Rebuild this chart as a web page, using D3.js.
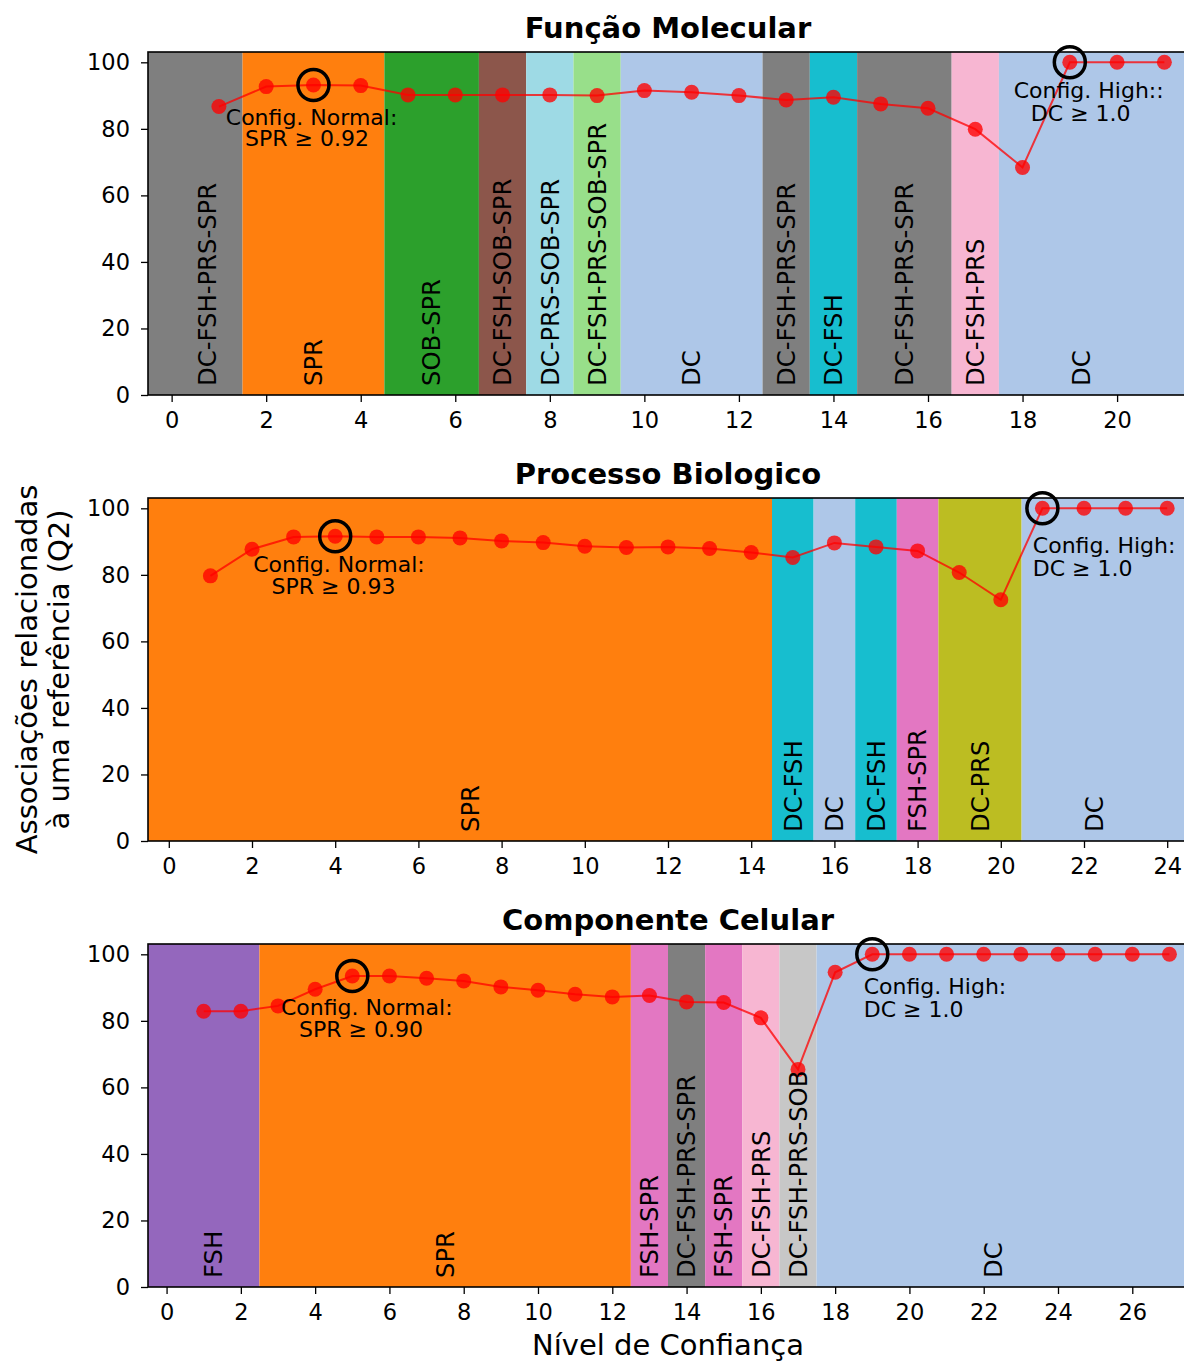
<!DOCTYPE html>
<html>
<head>
<meta charset="utf-8">
<script src="https://cdn.jsdelivr.net/npm/d3@7"></script>
<style>
body { margin: 0; background: #fff; }
text { font-family: "DejaVu Sans", sans-serif; }
</style>
</head>
<body>
<div id="chart"></div>
<script>
// confidence levels and Q2 values
var levelsMF = [1, 2, 3, 4, 5, 6, 7, 8, 9, 10, 11, 12, 13, 14, 15, 16, 17, 18, 19, 20, 21];
var valuesMF = [86.7, 92.7, 93.2, 93.0, 90.2, 90.2, 90.2, 90.2, 90.0, 91.5, 91.0, 90.0, 88.7, 89.5, 87.5, 86.2, 79.9, 68.4, 100, 100, 100];

var levelsBP = [1, 2, 3, 4, 5, 6, 7, 8, 9, 10, 11, 12, 13, 14, 15, 16, 17, 18, 19, 20, 21, 22, 23, 24];
var valuesBP = [79.7, 87.7, 91.4, 91.6, 91.4, 91.4, 91.1, 90.2, 89.7, 88.6, 88.2, 88.4, 87.9, 86.7, 85.2, 89.6, 88.4, 87.2, 80.7, 72.5, 100, 100, 100, 100];

var levelsCC = [1, 2, 3, 4, 5, 6, 7, 8, 9, 10, 11, 12, 13, 14, 15, 16, 17, 18, 19, 20, 21, 22, 23, 24, 25, 26, 27];
var valuesCC = [82.9, 82.9, 84.5, 89.5, 93.5, 93.5, 92.8, 92.0, 90.2, 89.2, 88.0, 87.2, 87.6, 85.7, 85.5, 80.9, 65.4, 94.6, 100, 100, 100, 100, 100, 100, 100, 100, 100];

// best configuration per level range (first and last level of each band)
var bandNamesMF = ["DC-FSH-PRS-SPR", "SPR", "SOB-SPR", "DC-FSH-SOB-SPR", "DC-PRS-SOB-SPR", "DC-FSH-PRS-SOB-SPR", "DC", "DC-FSH-PRS-SPR", "DC-FSH", "DC-FSH-PRS-SPR", "DC-FSH-PRS", "DC"];
var bandFirstMF = [0, 2, 5, 7, 8, 9, 10, 13, 14, 15, 17, 18];
var bandLastMF = [1, 4, 6, 7, 8, 9, 12, 13, 14, 16, 17, 21];

var bandNamesBP = ["SPR", "DC-FSH", "DC", "DC-FSH", "FSH-SPR", "DC-PRS", "DC"];
var bandFirstBP = [0, 15, 16, 17, 18, 19, 21];
var bandLastBP = [14, 15, 16, 17, 18, 20, 24];

var bandNamesCC = ["FSH", "SPR", "FSH-SPR", "DC-FSH-PRS-SPR", "FSH-SPR", "DC-FSH-PRS", "DC-FSH-PRS-SOB", "DC"];
var bandFirstCC = [0, 3, 13, 14, 15, 16, 17, 18];
var bandLastCC = [2, 12, 13, 14, 15, 16, 17, 27];

var ticksMF = [0, 2, 4, 6, 8, 10, 12, 14, 16, 18, 20];
var ticksBP = [0, 2, 4, 6, 8, 10, 12, 14, 16, 18, 20, 22, 24];
var ticksCC = [0, 2, 4, 6, 8, 10, 12, 14, 16, 18, 20, 22, 24, 26];
var ticksY = [0, 20, 40, 60, 80, 100];

// chosen levels (normal / high)
var normalMF = 3, highMF = 19, normalThrMF = "0.92";
var normalBP = 4, highBP = 21, normalThrBP = "0.93";
var normalCC = 5, highCC = 19, normalThrCC = "0.90";

var bandColor = {
    "DC-FSH-PRS-SPR": "#7f7f7f",
    "SPR": "#ff7f0e",
    "SOB-SPR": "#2ca02c",
    "DC-FSH-SOB-SPR": "#8c564b",
    "DC-PRS-SOB-SPR": "#9edae5",
    "DC-FSH-PRS-SOB-SPR": "#98df8a",
    "DC": "#aec7e8",
    "DC-FSH": "#17becf",
    "DC-FSH-PRS": "#f7b6d2",
    "FSH-SPR": "#e377c2",
    "DC-PRS": "#bcbd22",
    "FSH": "#9467bd",
    "DC-FSH-PRS-SOB": "#c7c7c7"
};

var panels = [
    { title: "Função Molecular", levels: levelsMF, values: valuesMF, names: bandNamesMF, first: bandFirstMF, last: bandLastMF,
      ticks: ticksMF, normal: normalMF, high: highMF, thr: normalThrMF,
      normalText: { x: 2.96, y: 81.2, dx2: -4.5, gap: 21.5 },
      highText: { x: 19.4, y: 89.4, anchor: "middle", dx2: -8, gap: 23, label: "Config. High::" } },
    { title: "Processo Biologico", levels: levelsBP, values: valuesBP, names: bandNamesBP, first: bandFirstBP, last: bandLastBP,
      ticks: ticksBP, normal: normalBP, high: highBP, thr: normalThrBP,
      normalText: { x: 4.09, y: 80.8, dx2: -5.5, gap: 21.5 },
      highText: { x: 20.77, y: 86.7, anchor: "start", dx2: 0, gap: 23, label: "Config. High:" } },
    { title: "Componente Celular", levels: levelsCC, values: valuesCC, names: bandNamesCC, first: bandFirstCC, last: bandLastCC,
      ticks: ticksCC, normal: normalCC, high: highCC, thr: normalThrCC,
      normalText: { x: 5.39, y: 81.7, dx2: -5.7, gap: 21.5 },
      highText: { x: 18.77, y: 88.2, anchor: "start", dx2: 0, gap: 23, label: "Config. High:" } }
];

var width = 1184, height = 1363;
var left = 148, innerwidth = 1040, innerheight = 343;
var tops = [52, 498, 944];

var svg = d3.select("#chart").append("svg")
    .attr("width", width)
    .attr("height", height);

panels.forEach(function (p, k) {
    var xmax = p.levels[p.levels.length - 1];
    var x = d3.scaleLinear().domain([-0.5, xmax + 0.5]).range([0, innerwidth]);
    var y = d3.scaleLinear().domain([0, 103.1]).range([innerheight, 0]);

    var g = svg.append("g").attr("transform", "translate(" + left + "," + tops[k] + ")");

    var bands = p.names.map(function (n, i) {
        return { name: n, x0: p.first[i] - 0.5, x1: p.last[i] + 0.5 };
    });

    g.selectAll(".band").data(bands).enter().append("rect")
        .attr("class", "band")
        .attr("x", function (d) { return x(d.x0); })
        .attr("width", function (d) { return x(d.x1) - x(d.x0); })
        .attr("y", 0)
        .attr("height", innerheight)
        .attr("fill", function (d) { return bandColor[d.name]; });

    var pts = d3.zip(p.levels, p.values);
    var draw_line = d3.line()
        .x(function (d) { return x(d[0]); })
        .y(function (d) { return y(d[1]); });

    g.append("path")
        .attr("d", draw_line(pts))
        .attr("fill", "none")
        .attr("stroke", "red")
        .attr("stroke-opacity", 0.75)
        .attr("stroke-width", 2);

    g.selectAll(".pt").data(pts).enter().append("circle")
        .attr("class", "pt")
        .attr("cx", function (d) { return x(d[0]); })
        .attr("cy", function (d) { return y(d[1]); })
        .attr("r", 7.5)
        .attr("fill", "red")
        .attr("fill-opacity", 0.78);

    // highlighted configurations
    [p.normal, p.high].forEach(function (lv) {
        var v = p.values[p.levels.indexOf(lv)];
        g.append("circle")
            .attr("cx", x(lv))
            .attr("cy", y(v))
            .attr("r", 15.5)
            .attr("fill", "none")
            .attr("stroke", "black")
            .attr("stroke-width", 3.5);
    });

    // spines
    g.append("rect")
        .attr("width", innerwidth)
        .attr("height", innerheight)
        .attr("fill", "none")
        .attr("stroke", "black")
        .attr("stroke-width", 1.6);

    // band labels
    g.selectAll(".blabel").data(bands).enter().append("text")
        .attr("class", "blabel")
        .attr("transform", function (d) {
            var cx = (Math.max(d.x0, 0) + Math.min(d.x1, xmax)) / 2;
            return "translate(" + x(cx) + "," + y(2.7) + ") rotate(-90)";
        })
        .attr("dy", "0.36em")
        .style("font-size", "24.3px")
        .text(function (d) { return d.name; });

    // annotations
    var notes = [
        { t: p.normalText, lines: ["Config. Normal:", "SPR \u2265 " + p.thr], anchor: "middle" },
        { t: p.highText, lines: [p.highText.label, "DC \u2265 1.0"], anchor: p.highText.anchor }
    ];
    notes.forEach(function (n) {
        var txt = g.append("text")
            .attr("x", x(n.t.x))
            .attr("y", y(n.t.y))
            .attr("text-anchor", n.anchor)
            .style("font-size", "22px");
        txt.append("tspan").attr("x", x(n.t.x)).text(n.lines[0]);
        txt.append("tspan").attr("x", x(n.t.x) + n.t.dx2).attr("dy", n.t.gap).text(n.lines[1]);
    });

    // axes
    var x_axis = d3.axisBottom(x).tickValues(p.ticks).tickSize(7).tickPadding(10).tickFormat(d3.format("d"));
    var y_axis = d3.axisLeft(y).tickValues(ticksY).tickSize(7).tickPadding(11).tickFormat(d3.format("d"));

    var gx = g.append("g")
        .attr("transform", "translate(0," + innerheight + ")")
        .call(x_axis);
    var gy = g.append("g").call(y_axis);

    [gx, gy].forEach(function (a) {
        a.select(".domain").remove();
        a.selectAll(".tick line").attr("stroke", "black").attr("stroke-width", 1.3);
        a.selectAll(".tick text")
            .attr("fill", "black")
            .style("font-family", "DejaVu Sans, sans-serif")
            .style("font-size", "22.5px");
    });

    g.append("text")
        .attr("x", innerwidth / 2)
        .attr("y", -14.5)
        .attr("text-anchor", "middle")
        .style("font-size", "29px")
        .style("font-weight", "bold")
        .text(p.title);
});

// shared axis labels
svg.append("text")
    .attr("x", left + innerwidth / 2)
    .attr("y", 1355)
    .attr("text-anchor", "middle")
    .style("font-size", "29px")
    .text("Nível de Confiança");

var ylab = svg.append("text")
    .attr("transform", "translate(37," + (tops[1] + innerheight / 2) + ") rotate(-90)")
    .attr("text-anchor", "middle")
    .style("font-size", "29px");
ylab.append("tspan").attr("x", 0).text("Associações relacionadas");
ylab.append("tspan").attr("x", 0).attr("dy", 31.5).text("à uma referência (Q2)");
</script>
</body>
</html>
